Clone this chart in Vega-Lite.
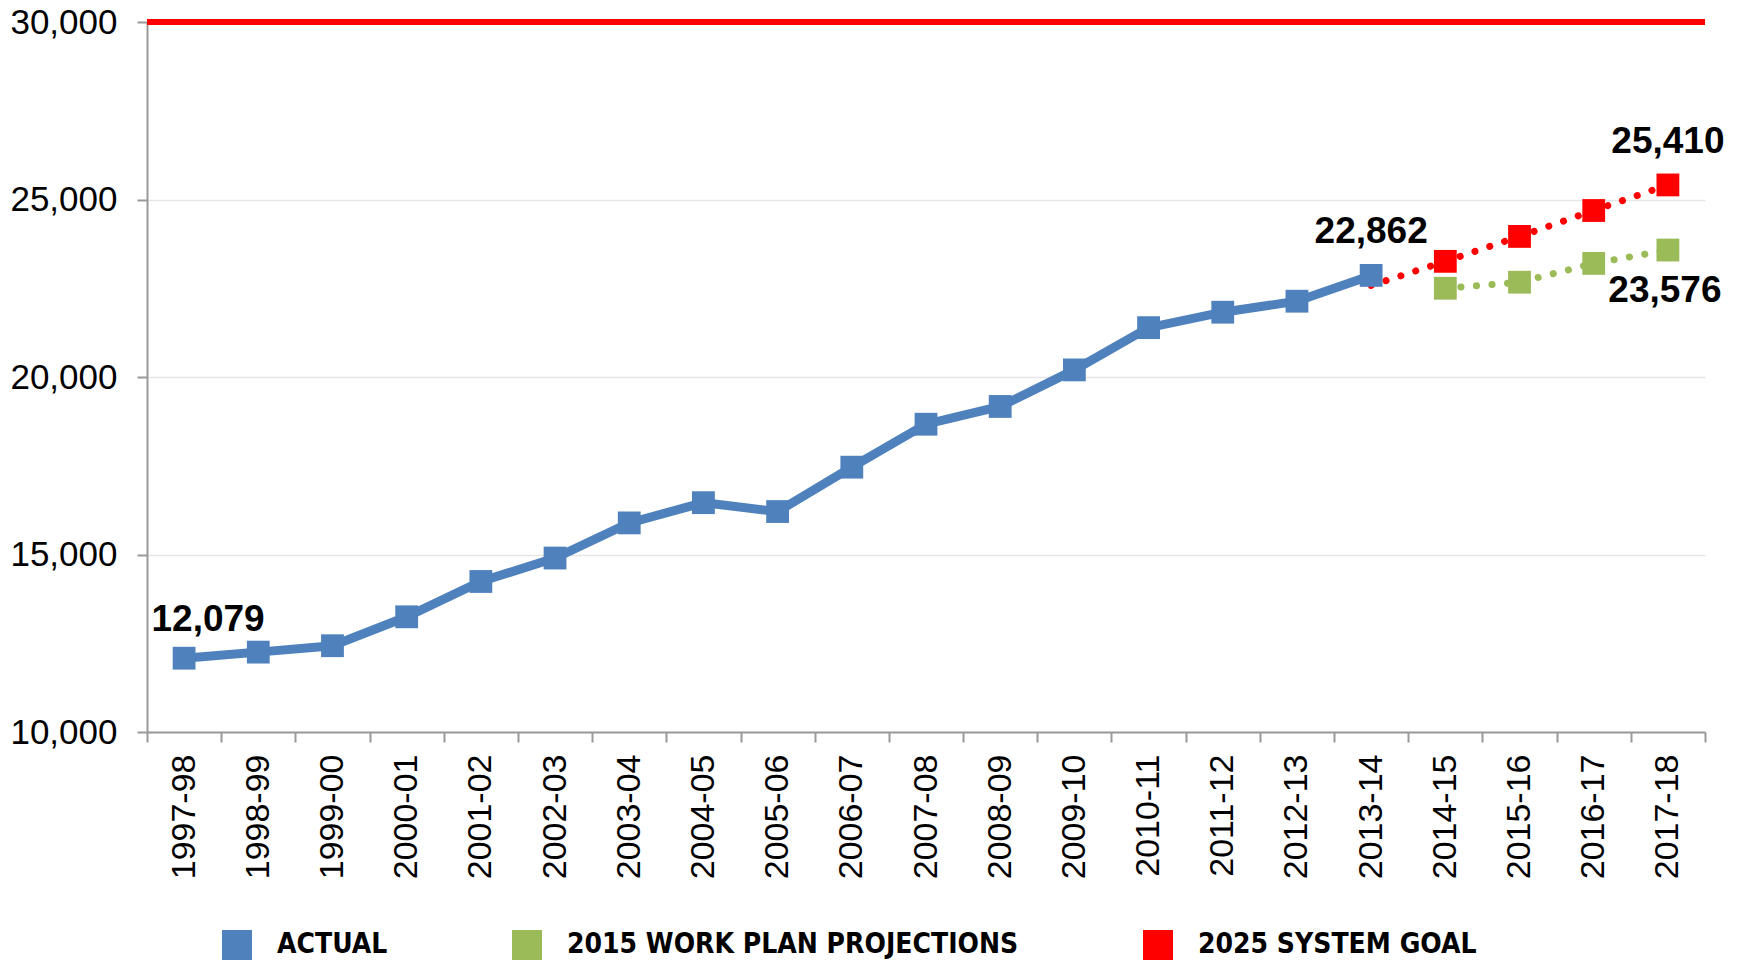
{
  "$schema": "https://vega.github.io/schema/vega-lite/v6.json",
  "autosize": {"type": "none"},
  "width": 1558,
  "height": 710,
  "padding": {"left": 147, "top": 22, "right": 36, "bottom": 231},
  "background": "white",
  "config": {
    "view": {"stroke": null},
    "axis": {"labelFont": "Liberation Sans", "labelColor": "black", "title": null}
  },
  "datasets": {
    "main": [
      {"period": "1997-98", "series": "ACTUAL", "value": 12079, "label": "12,079"},
      {"period": "1998-99", "series": "ACTUAL", "value": 12250},
      {"period": "1999-00", "series": "ACTUAL", "value": 12430},
      {"period": "2000-01", "series": "ACTUAL", "value": 13245},
      {"period": "2001-02", "series": "ACTUAL", "value": 14240},
      {"period": "2002-03", "series": "ACTUAL", "value": 14900},
      {"period": "2003-04", "series": "ACTUAL", "value": 15890},
      {"period": "2004-05", "series": "ACTUAL", "value": 16460},
      {"period": "2005-06", "series": "ACTUAL", "value": 16210},
      {"period": "2006-07", "series": "ACTUAL", "value": 17460},
      {"period": "2007-08", "series": "ACTUAL", "value": 18670},
      {"period": "2008-09", "series": "ACTUAL", "value": 19170},
      {"period": "2009-10", "series": "ACTUAL", "value": 20200},
      {"period": "2010-11", "series": "ACTUAL", "value": 21390},
      {"period": "2011-12", "series": "ACTUAL", "value": 21825},
      {"period": "2012-13", "series": "ACTUAL", "value": 22135},
      {"period": "2013-14", "series": "ACTUAL", "value": 22862, "label": "22,862"},
      {"period": "2014-15", "series": "2015 WORK PLAN PROJECTIONS", "value": 22500},
      {"period": "2015-16", "series": "2015 WORK PLAN PROJECTIONS", "value": 22670},
      {"period": "2016-17", "series": "2015 WORK PLAN PROJECTIONS", "value": 23200},
      {"period": "2017-18", "series": "2015 WORK PLAN PROJECTIONS", "value": 23576, "label": "23,576"},
      {"period": "2013-14", "series": "2025 SYSTEM GOAL", "value": 22580},
      {"period": "2014-15", "series": "2025 SYSTEM GOAL", "value": 23258},
      {"period": "2015-16", "series": "2025 SYSTEM GOAL", "value": 23960},
      {"period": "2016-17", "series": "2025 SYSTEM GOAL", "value": 24690},
      {"period": "2017-18", "series": "2025 SYSTEM GOAL", "value": 25410, "label": "25,410"}
    ]
  },
  "data": {"name": "main"},
  "encoding": {
    "x": {
      "field": "period",
      "type": "ordinal",
      "sort": null,
      "scale": {"type": "band", "paddingInner": 0, "paddingOuter": 0},
      "axis": {
        "labelAngle": -90,
        "labelFontSize": 34,
        "labelPadding": 12,
        "tickBand": "extent",
        "tickSize": 10,
        "tickColor": "#999999",
        "domainColor": "#999999",
        "domainWidth": 2,
        "tickWidth": 2,
        "grid": false
      }
    },
    "y": {
      "field": "value",
      "type": "quantitative",
      "scale": {"domain": [10000, 30000], "nice": false, "zero": false},
      "axis": {
        "values": [10000, 15000, 20000, 25000, 30000],
        "format": ",d",
        "labelFontSize": 35,
        "labelPadding": 20,
        "tickSize": 10,
        "tickColor": "#999999",
        "tickWidth": 2,
        "domainColor": "#999999",
        "domainWidth": 2,
        "grid": true,
        "gridColor": "#E6E6E6",
        "gridWidth": 1.5
      }
    }
  },
  "layer": [
    {
      "transform": [{"filter": "datum.series == 'ACTUAL'"}],
      "mark": {"type": "line", "color": "#4F81BD", "strokeWidth": 9}
    },
    {
      "transform": [{"filter": "datum.series == '2015 WORK PLAN PROJECTIONS'"}],
      "mark": {"type": "line", "color": "#9BBB59", "strokeWidth": 7, "strokeCap": "round", "strokeDash": [0.1, 15.5]}
    },
    {
      "transform": [{"filter": "datum.series == '2025 SYSTEM GOAL'"}],
      "mark": {"type": "line", "color": "#FF0000", "strokeWidth": 7, "strokeCap": "round", "strokeDash": [0.1, 15.5]}
    },
    {
      "transform": [{"filter": "!(datum.series == '2025 SYSTEM GOAL' && datum.period == '2013-14')"}],
      "mark": {"type": "point", "shape": "square", "filled": true, "size": 520, "opacity": 1},
      "encoding": {
        "color": {
          "field": "series",
          "type": "nominal",
          "scale": {
            "domain": ["ACTUAL", "2015 WORK PLAN PROJECTIONS", "2025 SYSTEM GOAL"],
            "range": ["#4F81BD", "#9BBB59", "#FF0000"]
          },
          "legend": {
            "title": null,
            "orient": "none",
            "legendX": 75,
            "legendY": 908,
            "direction": "horizontal",
            "symbolType": "square",
            "symbolSize": 900,
            "symbolOpacity": 1,
            "symbolStrokeWidth": 0,
            "labelFont": "DejaVu Sans Condensed",
            "labelFontSize": 28,
            "labelFontWeight": "bold",
            "labelColor": "black",
            "labelOffset": 25,
            "labelLimit": 0,
            "columnPadding": 124,
            "padding": 0
          }
        }
      }
    },
    {
      "data": {"values": [{"goal": 30000}]},
      "mark": {"type": "rule", "color": "#FF0000", "strokeWidth": 6},
      "encoding": {"x": null, "y": {"field": "goal", "type": "quantitative"}}
    },
    {
      "transform": [{"filter": "datum.period == '1997-98'"}],
      "mark": {"type": "text", "font": "Liberation Sans", "fontSize": 37, "fontWeight": "bold", "color": "black", "dx": 24, "dy": -38, "baseline": "middle"},
      "encoding": {"text": {"field": "label"}}
    },
    {
      "transform": [{"filter": "datum.label == '22,862' || datum.label == '25,410'"}],
      "mark": {"type": "text", "font": "Liberation Sans", "fontSize": 37, "fontWeight": "bold", "color": "black", "dy": -43, "baseline": "middle"},
      "encoding": {"text": {"field": "label"}}
    },
    {
      "transform": [{"filter": "datum.label == '23,576'"}],
      "mark": {"type": "text", "font": "Liberation Sans", "fontSize": 37, "fontWeight": "bold", "color": "black", "dx": -3, "dy": 41, "baseline": "middle"},
      "encoding": {"text": {"field": "label"}}
    }
  ]
}
